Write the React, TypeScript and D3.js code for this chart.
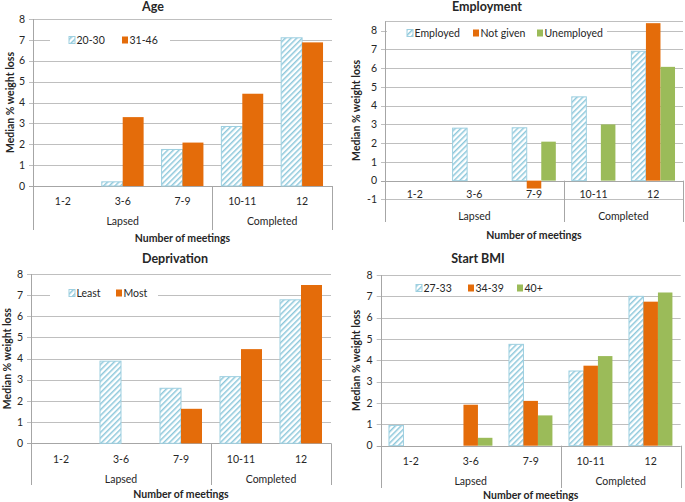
import React from "react";
import * as d3 from "d3";

const categories = ["1-2", "3-6", "7-9", "10-11", "12"];
const groupLabels = ["Lapsed", "Completed"];
const groupSpans = [3, 2];

const ageSeries = ["20-30", "31-46"];
const age2030 = [null, 0.2, 1.75, 2.85, 7.1];
const age3146 = [null, 3.3, 2.08, 4.42, 6.88];

const empSeries = ["Employed", "Not given", "Unemployed"];
const empEmployed = [null, 2.8, 2.82, 4.47, 6.9];
const empNotGiven = [null, null, -0.42, null, 8.4];
const empUnemployed = [null, null, 2.08, 3.0, 6.07];

const depSeries = ["Least", "Most"];
const depLeast = [null, 3.88, 2.6, 3.15, 6.78];
const depMost = [null, null, 1.63, 4.45, 7.48];

const bmiSeries = ["27-33", "34-39", "40+"];
const bmi2733 = [0.95, null, 4.75, 3.5, 7.0];
const bmi3439 = [null, 1.92, 2.1, 3.75, 6.75];
const bmi40 = [null, 0.37, 1.42, 4.2, 7.18];

const ticks08 = [0, 1, 2, 3, 4, 5, 6, 7, 8];
const ticksEmp = [-1, 0, 1, 2, 3, 4, 5, 6, 7, 8];

const yTitle = "Median  % weight loss";
const xTitle = "Number of meetings";

const HATCH = "url(#hatch)";
const ORANGE = "#E46C0A";
const GREEN = "#9BBB59";
const FONT = "Lato, 'Open Sans', sans-serif";
const TEXT = "#262626";
const GRID = "#BFBFBF";
const AXIS = "#A6A6A6";

type Panel = {
  title: string;
  titleX: number;
  titleY: number;
  left: number;
  right: number;
  yDomain: [number, number];
  yRange: [number, number];
  ticks: number[];
  series: string[];
  values: (number | null)[][];
  fills: string[];
  gap: number;
  catLabelY: number;
  groupLabelY: number;
  boxBottom: number;
  xTitleY: number;
  yTitleX: number;
  legend: { x0: number; x1: number; y: number; sw: number[] };
};

const panels: Panel[] = [
  {
    title: "Age", titleX: 153, titleY: 7, left: 33, right: 332,
    yDomain: [0, 8], yRange: [186, 19], ticks: ticks08,
    series: ageSeries, values: [age2030, age3146], fills: [HATCH, ORANGE], gap: 0.15,
    catLabelY: 201, groupLabelY: 221, boxBottom: 230, xTitleY: 238, yTitleX: 10,
    legend: { x0: 50, x1: 170, y: 40, sw: [69, 122] },
  },
  {
    title: "Employment", titleX: 487, titleY: 7, left: 385, right: 683,
    yDomain: [-1, 8.5], yRange: [199.4, 21.3], ticks: ticksEmp,
    series: empSeries, values: [empEmployed, empNotGiven, empUnemployed], fills: [HATCH, ORANGE, GREEN], gap: 0.134,
    catLabelY: 194, groupLabelY: 216, boxBottom: 222, xTitleY: 235, yTitleX: 356,
    legend: { x0: 387, x1: 607, y: 33, sw: [407, 473, 537] },
  },
  {
    title: "Deprivation", titleX: 175, titleY: 259, left: 31, right: 331,
    yDomain: [0, 8], yRange: [443.3, 274], ticks: ticks08,
    series: depSeries, values: [depLeast, depMost], fills: [HATCH, ORANGE], gap: 0.15,
    catLabelY: 459, groupLabelY: 479, boxBottom: 485, xTitleY: 494.5, yTitleX: 7,
    legend: { x0: 50, x1: 158, y: 293, sw: [69, 116] },
  },
  {
    title: "Start BMI", titleX: 478, titleY: 259, left: 380.7, right: 680.7,
    yDomain: [0, 8], yRange: [445.7, 275], ticks: ticks08,
    series: bmiSeries, values: [bmi2733, bmi3439, bmi40], fills: [HATCH, ORANGE, GREEN], gap: 0.138,
    catLabelY: 461, groupLabelY: 481, boxBottom: 488, xTitleY: 495, yTitleX: 356,
    legend: { x0: 400, x1: 552, y: 288, sw: [416, 468, 517] },
  },
];

function ChartPanel({ p }: { p: Panel }) {
  const y = d3.scaleLinear().domain(p.yDomain).range(p.yRange);
  const x0 = d3.scaleBand<string>().domain(categories).range([p.left, p.right]).padding(0);
  const W = x0.bandwidth();
  const x1 = d3
    .scaleBand<string>()
    .domain(p.series)
    .range([W * p.gap, W * (1 - p.gap)])
    .padding(0);
  const zeroY = y(0);
  const topY = y(p.yDomain[1]);
  const bottomY = y(p.yDomain[0]);
  const sepXs: number[] = [p.left];
  let acc = 0;
  groupSpans.forEach((s) => {
    acc += s;
    sepXs.push(acc >= categories.length ? p.right : (x0(categories[acc]) as number));
  });
  const groupCenters = groupSpans.map((s, i) => (sepXs[i] + sepXs[i + 1]) / 2);
  const midYTitle = (topY + bottomY) / 2;
  return (
    <g fontFamily={FONT} fill={TEXT}>
      {p.ticks.map((t) => (
        <line key={"g" + t} x1={p.left - 4} x2={p.right} y1={Math.round(y(t)) + 0.5} y2={Math.round(y(t)) + 0.5}
          stroke={t === 0 ? AXIS : GRID} strokeWidth={1} />
      ))}
      {p.yDomain[1] !== p.ticks[p.ticks.length - 1] && (
        <line x1={p.left} x2={p.right} y1={Math.round(topY) + 0.5} y2={Math.round(topY) + 0.5} stroke={GRID} />
      )}
      <rect x={p.legend.x0} y={p.legend.y - 7} width={p.legend.x1 - p.legend.x0} height={14} fill="#fff" />
      {p.series.map((s, si) =>
        categories.map((c, ci) => {
          const v = p.values[si][ci];
          if (v === null || v === undefined) return null;
          const bx = (x0(c) as number) + (x1(s) as number);
          const bw = x1.bandwidth();
          const yTop = y(Math.max(0, v));
          const yBot = y(Math.min(0, v));
          const hatched = p.fills[si] === HATCH;
          return (
            <rect key={s + c} x={bx} y={yTop} width={bw} height={Math.max(0.5, yBot - yTop)}
              fill={p.fills[si]} stroke={hatched ? "#9DCFE0" : "none"} strokeWidth={hatched ? 1 : 0} />
          );
        })
      )}
      <line x1={Math.round(p.left) + 0.5} x2={Math.round(p.left) + 0.5} y1={topY} y2={p.boxBottom} stroke={AXIS} />
      {p.ticks.map((t) => (
        <text key={"t" + t} x={p.left - 8} y={y(t)} dy="0.35em" textAnchor="end" fontSize={10.5}>
          {t}
        </text>
      ))}
      {sepXs.slice(1).map((sx, i) => (
        <line key={"s" + i} x1={Math.round(sx) + 0.5} x2={Math.round(sx) + 0.5} y1={zeroY} y2={p.boxBottom} stroke={AXIS} />
      ))}
      {categories.map((c) => (
        <text key={"c" + c} x={(x0(c) as number) + W / 2} y={p.catLabelY} dy="0.35em" textAnchor="middle" fontSize={10.5}>
          {c}
        </text>
      ))}
      {groupLabels.map((g, i) => (
        <text key={"gl" + g} x={groupCenters[i]} y={p.groupLabelY} dy="0.35em" textAnchor="middle" fontSize={10.5}>
          {g}
        </text>
      ))}
      {p.series.map((s, si) => (
        <g key={"lg" + s}>
          <rect x={p.legend.sw[si]} y={p.legend.y - 3.5} width={6} height={7} fill={p.fills[si]}
            stroke={p.fills[si] === HATCH ? "#9DCFE0" : "none"} />
          <text x={p.legend.sw[si] + 7.5} y={p.legend.y} dy="0.35em" fontSize={10.5}>
            {s}
          </text>
        </g>
      ))}
      <text x={p.titleX} y={p.titleY} dy="0.35em" textAnchor="middle" fontSize={12.5} fontWeight="bold">
        {p.title}
      </text>
      <text x={(p.left + p.right) / 2} y={p.xTitleY} dy="0.35em" textAnchor="middle" fontSize={10.5} fontWeight="bold">
        {xTitle}
      </text>
      <text transform={`translate(${p.yTitleX},${midYTitle}) rotate(-90)`} dy="0.35em" textAnchor="middle"
        fontSize={10.5} fontWeight="bold">
        {yTitle}
      </text>
    </g>
  );
}

export default function App() {
  return (
    <div style={{ position: "absolute", left: 0, top: 0 }}>
      <svg width={685} height={502} style={{ display: "block", background: "#fff" }}>
        <defs>
          <pattern id="hatch" patternUnits="userSpaceOnUse" width={4} height={4} patternTransform="rotate(45)">
            <rect width={4} height={4} fill="#fff" />
            <line x1={0} y1={0} x2={0} y2={4} stroke="#8DC8DB" strokeWidth={3} />
          </pattern>
        </defs>
        {panels.map((p) => (
          <ChartPanel key={p.title} p={p} />
        ))}
      </svg>
    </div>
  );
}
